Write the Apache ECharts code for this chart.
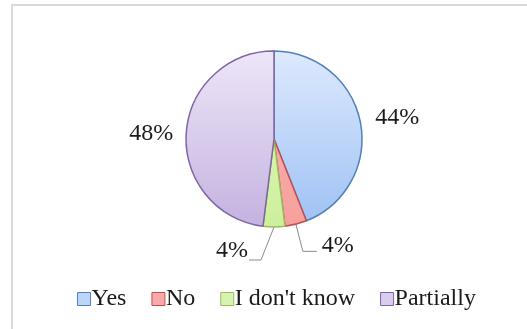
<!DOCTYPE html>
<html>
<head>
<meta charset="utf-8">
<script src="https://cdn.jsdelivr.net/npm/echarts@6/dist/echarts.min.js"></script>
<style>
  html, body { margin: 0; padding: 0; background: #ffffff; }
  #chart { width: 527px; height: 329px; }
</style>
</head>
<body>
<div id="chart"></div>
<script>
// Survey answers and their shares (percent)
const categories = ['Yes', 'No', "I don't know", 'Partially'];
const shares = [44, 4, 4, 48];

// Slice fills (top → bottom of the pie) and outlines
const fillTop = ['#dde9fd', '#fbb4b2', '#e2f8c4', '#ede6f8'];
const fillBottom = ['#9ec1f4', '#f6a09d', '#cdf09c', '#c4b2e0'];
const edgeColors = ['#4f81bd', '#c0504d', '#9bbb59', '#8064a2'];
const legendFill = ['#bcd5f8', '#f9aaa8', '#d7f3b0', '#d9cdee'];

// Leader line lengths per slice [radial, horizontal]
const leaderLen = [[6, 4], [28, 14], [30, 12], [4, 4]];
const leaderShown = [false, true, true, false];

const FONT = 'Liberation Serif';
const PIE_TOP = 51, PIE_BOTTOM = 227;

const chart = echarts.init(document.getElementById('chart'), null, { renderer: 'canvas' });

const seriesData = categories.map((name, i) => ({
  name: name,
  value: shares[i],
  itemStyle: {
    color: new echarts.graphic.LinearGradient(0, PIE_TOP, 0, PIE_BOTTOM, [
      { offset: 0, color: fillTop[i] },
      { offset: 1, color: fillBottom[i] }
    ], true),
    borderColor: edgeColors[i],
    borderWidth: 1.5
  },
  labelLine: {
    show: leaderShown[i],
    length: leaderLen[i][0],
    length2: leaderLen[i][1]
  }
}));

const legendData = categories.map((name, i) => ({
  name: name,
  icon: 'rect',
  itemStyle: { color: legendFill[i], borderColor: edgeColors[i], borderWidth: 1 }
}));

chart.setOption({
  animation: false,
  backgroundColor: '#ffffff',
  graphic: [{
    type: 'rect',
    shape: { x: 12, y: 5, width: 640, height: 420 },
    style: { fill: 'none', stroke: '#d9d9d9', lineWidth: 2 },
    silent: true,
    z: -1
  }],
  legend: {
    data: legendData,
    left: 72,
    top: 282,
    itemWidth: 13,
    itemHeight: 13,
    itemGap: 25,
    textStyle: { fontFamily: FONT, fontSize: 24, color: '#1a1a1a', padding: [0, 0, 0, -4] }
  },
  series: [{
    type: 'pie',
    center: [274, 139],
    radius: 88,
    startAngle: 90,
    clockwise: true,
    avoidLabelOverlap: false,
    data: seriesData,
    label: {
      show: true,
      position: 'outside',
      formatter: '{d}%',
      fontFamily: FONT,
      fontSize: 24,
      color: '#1a1a1a'
    },
    labelLine: {
      lineStyle: { color: '#8c8c8c', width: 1 }
    },
    labelLayout: function (p) {
      const pts = p.labelLinePoints;
      if (!pts) return {};
      if (p.dataIndex === 2) {
        // bend the leader of the bottom slice down-left and put its label on the left
        const a = pts[0];
        const b = [a[0] - 13, pts[1][1] + 3];
        const c = [b[0] - 12, b[1]];
        return { x: c[0] - 1, y: c[1] - 9, align: 'right', verticalAlign: 'middle', labelLinePoints: [a, b, c] };
      }
      if (p.dataIndex === 1) {
        return { dy: -6, labelLinePoints: pts };
      }
      if (p.dataIndex === 0) {
        return { dy: -4, labelLinePoints: pts };
      }
      return {};
    }
  }]
});
</script>
</body>
</html>
